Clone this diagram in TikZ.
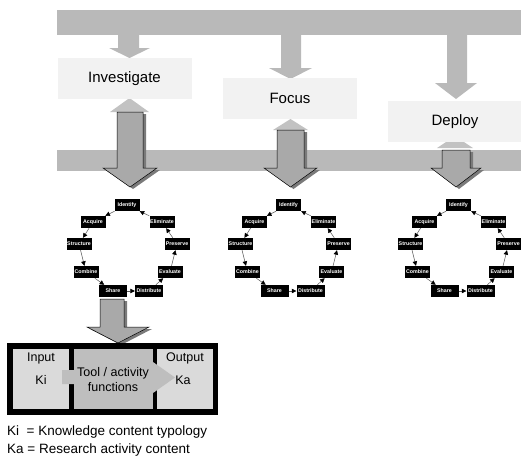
\documentclass[tikz,border=0pt]{standalone}
\usepackage{fontspec}
\setmainfont{Liberation Sans}
\usetikzlibrary{arrows.meta}
\usetikzlibrary{calc}

\definecolor{bargray}{HTML}{B9B9B9}
\definecolor{upgray}{HTML}{C2C2C2}
\definecolor{boxgray}{HTML}{F2F2F2}
\definecolor{midgray}{HTML}{A9A9A9}
\definecolor{shadowgray}{HTML}{7A7A7A}
\definecolor{inpgray}{HTML}{DADADA}
\definecolor{toolgray}{HTML}{BEBEBE}

\tikzset{
  lblbox/.style={fill=boxgray, minimum width=134pt, minimum height=41pt, inner sep=0pt, font=\fontsize{15}{18}\selectfont},
  cyc/.style={fill=black, text=white, inner sep=0.5pt, minimum width=25pt, minimum height=12pt, font=\fontsize{5.3}{6}\selectfont\bfseries},
  cycarrow/.style={draw=black!65, line width=0.5pt, -{Triangle[length=4.5pt, width=4.5pt, color=black]}},
  bigarrow/.style={fill=midgray, draw=black, line width=0.5pt, preaction={fill=shadowgray, draw=none, transform canvas={shift={(3pt,-2pt)}}}},
  paneltext/.style={inner sep=0pt, font=\fontsize{12.5}{15}\selectfont},
  legendtext/.style={anchor=west, inner sep=0pt, font=\fontsize{13.5}{16}\selectfont}
}

\begin{document}
\begin{tikzpicture}[x=1pt, y=-1pt]
      \useasboundingbox (0,0) rectangle (521,459);

      % bars
      \fill[bargray] (57,10) rectangle (521,35);
      \fill[bargray] (57,150) rectangle (521,171);

      % arrows from the top bar
      \fill[bargray] (118,35) -- (139,35) -- (139,48) -- (150,48) -- (129.5,58) -- (109,48) -- (118,48) -- cycle;
      \fill[bargray] (281,35) -- (301,35) -- (301,68) -- (312,68) -- (290.5,79) -- (269,68) -- (281,68) -- cycle;
      \fill[bargray] (447,35) -- (467,35) -- (467,83) -- (477,83) -- (456,99) -- (435,83) -- (447,83) -- cycle;

      \fill[upgray] (110,112) -- (129.5,98) -- (149,112) -- cycle;
      \fill[upgray] (273,130) -- (290.5,119) -- (308,130) -- cycle;
      \fill[upgray] (437,148) -- (455,136) -- (473,148) -- cycle;

      \node[lblbox] (inv) at (124.5,78.5) {Investigate};
      \node[lblbox] (foc) at (290,98) {Focus};
      \node[lblbox] (dep) at (455,121.5) {Deploy};

      % big arrows down into the cycles
      \draw[bigarrow] (117,112) -- (143,112) -- (143,168) -- (157,168) -- (130,187) -- (103,168) -- (117,168) -- cycle;
      \draw[bigarrow] (277,130) -- (304,130) -- (304,168) -- (317,168) -- (290.5,187) -- (264,168) -- (277,168) -- cycle;
      \draw[bigarrow] (442,150) -- (470,150) -- (470,168) -- (481,168) -- (456,187) -- (431,168) -- (442,168) -- cycle;

      % the three cycles
      \foreach \cx [count=\i] in {128, 289.5, 459.5} {
        \node[cyc] (id\i) at (\cx-1,205) {Identify};
        \node[cyc] (acq\i) at (\cx-35,222) {Acquire};
        \node[cyc] (eli\i) at (\cx+34,222) {Eliminate};
        \node[cyc] (str\i) at (\cx-49,244) {Structure};
        \node[cyc] (pre\i) at (\cx+49,244) {Preserve};
        \node[cyc] (com\i) at (\cx-42,272) {Combine};
        \node[cyc] (eva\i) at (\cx+42,272) {Evaluate};
        \node[cyc, minimum width=28pt] (sha\i) at (\cx-15,291) {Share};
        \node[cyc, minimum width=28pt] (dis\i) at (\cx+21,291) {Distribute};

        \draw[cycarrow] (id\i) -- (acq\i);
        \draw[cycarrow] (acq\i) -- (str\i);
        \draw[cycarrow] (str\i) -- (com\i);
        \draw[cycarrow] (com\i) -- (sha\i);
        \draw[cycarrow] (sha\i) -- (dis\i);
        \draw[cycarrow] (dis\i) -- (eva\i);
        \draw[cycarrow] (eva\i) -- (pre\i);
        \draw[cycarrow] (pre\i) -- (eli\i);
        \draw[cycarrow] (eli\i) -- (id\i);
      }

      % arrow down to the panel
      \draw[bigarrow] (100,299) -- (124,299) -- (124,327) -- (149,327) -- (118,343) -- (87,327) -- (100,327) -- cycle;

      % panel
      \fill[black] (7,343) rectangle (218,415);
      \fill[inpgray] (13,349) rectangle (69,409);
      \fill[toolgray] (74,349) rectangle (153,409);
      \fill[inpgray] (157,349) rectangle (213,409);
      \fill[toolgray] (62,370) -- (153,370) -- (153,362) -- (175,377.5) -- (153,393) -- (153,384) -- (62,384) -- cycle;

      \node[paneltext] (inp) at (41,358) {Input};
      \node[paneltext] (ki) at (41,380) {Ki};
      \node[paneltext, align=center] (tool) at (113,379.5) {Tool / activity\\functions};
      \node[paneltext] (out) at (185,358) {Output};
      \node[paneltext] (ka) at (183,380) {Ka};

      % legend
      \node[legendtext] (leg1) at (7,432) {Ki~~= Knowledge content typology};
      \node[legendtext] (leg2) at (7,450) {Ka = Research activity content};
    \end{tikzpicture}
\end{document}
